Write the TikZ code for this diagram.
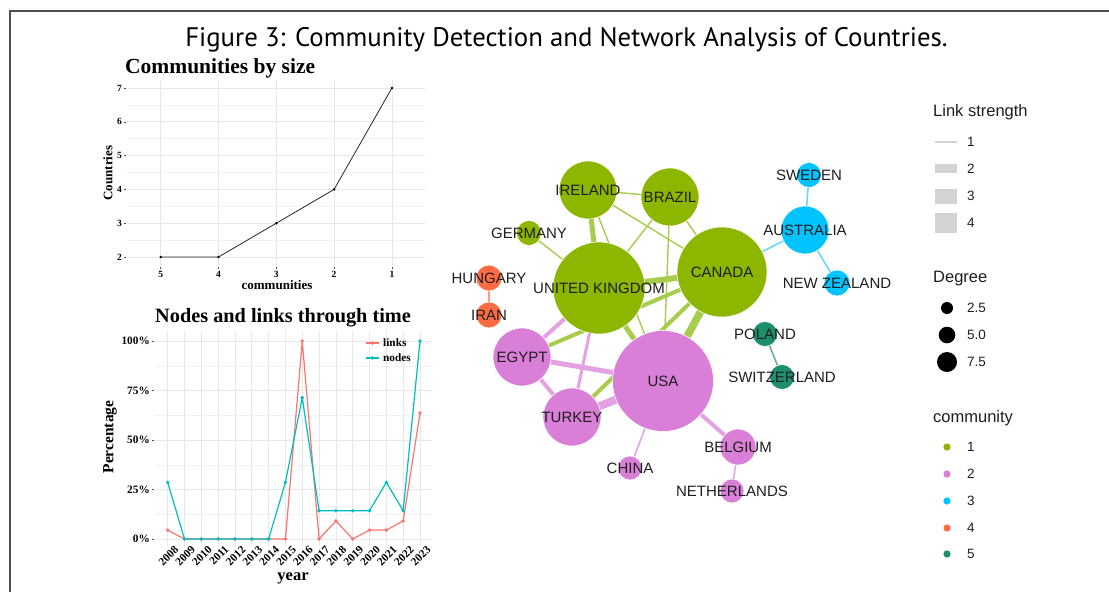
\documentclass[tikz,border=0pt]{standalone}
\usepackage{fontspec}
\setmainfont{Liberation Serif}
\newfontfamily\netfont{Liberation Sans}
\newfontfamily\titlefont{PT Sans}
\usetikzlibrary{backgrounds}
\definecolor{cone}{HTML}{8DB600}
\definecolor{ctwo}{HTML}{DA7FD8}
\definecolor{cthree}{HTML}{00C3FF}
\definecolor{cfour}{HTML}{FF6B42}
\definecolor{cfive}{HTML}{1D8F6C}
\definecolor{eone}{HTML}{A8CC4C}
\definecolor{etwo}{HTML}{E4A2E2}
\definecolor{ethree}{HTML}{66D6FF}
\definecolor{efour}{HTML}{FF9A7C}
\definecolor{efive}{HTML}{5FAF95}
\definecolor{clinks}{HTML}{F8766D}
\definecolor{cnodes}{HTML}{00BFC4}
\definecolor{framegray}{HTML}{505050}
\definecolor{txt}{HTML}{1E1E1E}
\definecolor{keygray}{HTML}{D3D3D3}
\tikzset{
  framestyle/.style={draw=framegray, line width=2pt},
  gridmaj/.style={draw=black!9, line width=0.7pt},
  gridmin/.style={draw=black!5, line width=0.5pt},
  ticklab/.style={font=\bfseries\fontsize{9.5}{10}\selectfont, inner sep=0pt},
  ticklabb/.style={font=\bfseries\fontsize{11.3}{12}\selectfont, inner sep=0pt},
  yearlab/.style={font=\bfseries\fontsize{11.3}{12}\selectfont, inner sep=0pt},
  axtitle/.style={font=\bfseries\fontsize{13}{14}\selectfont, inner sep=0pt},
  axtitleb/.style={font=\bfseries\fontsize{16.5}{17}\selectfont, inner sep=0pt},
  charttitle/.style={font=\bfseries\fontsize{21.5}{24}\selectfont, inner sep=0pt, anchor=base west},
  tickmark/.style={draw=black!70, line width=0.5pt},
  nd/.style={circle, inner sep=0pt, draw=white, line width=0.6pt},
  lab/.style={font=\netfont\fontsize{15}{17}\selectfont, text=txt, inner sep=0pt},
  legtitle/.style={font=\netfont\fontsize{16.5}{18}\selectfont, text=txt, inner sep=0pt, anchor=west},
  legitem/.style={font=\netfont\fontsize{13.5}{15}\selectfont, text=txt, inner sep=0pt, anchor=west},
  eg/.style={draw=eone},
  ep/.style={draw=etwo},
}
\begin{document}
\begin{tikzpicture}[x=1pt,y=-1pt]
\useasboundingbox (0,0) rectangle (1109,592);
\begin{pgfonlayer}{background}
\fill[white] (0,0) rectangle (1109,592);
\end{pgfonlayer}
% frame
\coordinate (fa) at (9.5,592);
\coordinate (fb) at (9.5,10.5);
\coordinate (fc) at (1109,10.5);
\draw[framestyle] (fa) -- (fb) -- (fc);
% title
\node[font=\titlefont\fontsize{26.8}{30}\selectfont, anchor=base, inner sep=0pt] (title) at (566.5,46) {Figure 3: Community Detection and Network Analysis of Countries.};

% ================= Chart 1 =================
\node[charttitle] (t1) at (125,73) {Communities by size};
\foreach \v in {2.5,3.5,4.5,5.5,6.5} \draw[gridmin] (127,{257-33.8*(\v-2)}) -- (425,{257-33.8*(\v-2)});
\foreach \v in {2,...,7} \draw[gridmaj] (127,{257-33.8*(\v-2)}) -- (425,{257-33.8*(\v-2)});
\foreach \i in {0,...,4} \draw[gridmaj] ({160.7+57.8*\i},80) -- ({160.7+57.8*\i},266);
\foreach \v in {2,...,7} {
  \node[ticklab, anchor=east] at (122,{257-33.8*(\v-2)}) {\v};
  \draw[tickmark] (123.5,{257-33.8*(\v-2)}) -- (125.5,{257-33.8*(\v-2)});
}
\foreach \i/\l in {0/5,1/4,2/3,3/2,4/1} {
  \draw[tickmark] ({160.7+57.8*\i},267) -- ({160.7+57.8*\i},269);
  \node[ticklab] at ({160.7+57.8*\i},274.5) {\l};
}
\node[axtitle] (xl1) at (277,285) {communities};
\node[axtitle, rotate=90] (yl1) at (108,173) {Countries};
\draw[black!85, line width=0.8pt] (160.7,257) -- (218.5,257) -- (276.3,223.2) -- (334.1,189.4) -- (391.9,88);
\foreach \x/\y in {160.7/257,218.5/257,276.3/223.2,334.1/189.4,391.9/88} \fill[black] (\x,\y) circle (1.4);

% ================= Chart 2 =================
\node[charttitle, font=\bfseries\fontsize{20.3}{23}\selectfont] (t2) at (155,322) {Nodes and links through time};
\foreach \p in {12.5,37.5,62.5,87.5} \draw[gridmin] (155,{539-1.98*\p}) -- (432,{539-1.98*\p});
\foreach \p in {0,25,50,75,100} \draw[gridmaj] (155,{539-1.98*\p}) -- (432,{539-1.98*\p});
\foreach \j in {0,...,15} \draw[gridmaj] ({167.7+16.82*\j},331) -- ({167.7+16.82*\j},546);
\foreach \p in {0,25,50,75,100} {
  \node[ticklabb, anchor=east] at (150,{539-1.98*\p}) {\p\%};
  \draw[tickmark] (151.5,{539-1.98*\p}) -- (153.5,{539-1.98*\p});
}
\foreach \j in {0,...,15} {
  \pgfmathtruncatemacro{\yr}{2008+\j}
  \node[yearlab, rotate=45, anchor=north east] at ({167.7+16.82*\j+6},544.5) {\yr};
}
\node[axtitleb] (xl2) at (293,578) {year};
\node[axtitleb, font=\bfseries\fontsize{15.5}{17}\selectfont, rotate=90] (yl2) at (110,437) {Percentage};
\def\linkdata{0/4.5,1/0,2/0,3/0,4/0,5/0,6/0,7/0,8/100,9/0,10/9.1,11/0,12/4.5,13/4.5,14/9.1,15/63.6}
\def\nodedata{0/28.6,1/0,2/0,3/0,4/0,5/0,6/0,7/28.6,8/71.4,9/14.3,10/14.3,11/14.3,12/14.3,13/28.6,14/14.3,15/100}
\draw[clinks, line width=1.2pt, line join=round]
  (167.7,{539-1.98*4.5}) \foreach \j/\p in {1/0,2/0,3/0,4/0,5/0,6/0,7/0,8/100,9/0,10/9.1,11/0,12/4.5,13/4.5,14/9.1,15/63.6} { -- ({167.7+16.82*\j},{539-1.98*\p}) };
\foreach \j/\p in \linkdata \fill[clinks] ({167.7+16.82*\j},{539-1.98*\p}) circle (1.9);
\draw[cnodes, line width=1.2pt, line join=round]
  (167.7,{539-1.98*28.6}) \foreach \j/\p in {1/0,2/0,3/0,4/0,5/0,6/0,7/28.6,8/71.4,9/14.3,10/14.3,11/14.3,12/14.3,13/28.6,14/14.3,15/100} { -- ({167.7+16.82*\j},{539-1.98*\p}) };
\foreach \j/\p in \nodedata \fill[cnodes] ({167.7+16.82*\j},{539-1.98*\p}) circle (1.9);
\coordinate (la) at (366,343); \coordinate (lb) at (379,343);
\draw[clinks, line width=1.2pt] (la) -- (lb); \fill[clinks] (372.5,343) circle (1.9);
\node[ticklabb, anchor=west] (ll) at (383,343) {links};
\coordinate (na) at (366,358); \coordinate (nb) at (379,358);
\draw[cnodes, line width=1.2pt] (na) -- (nb); \fill[cnodes] (372.5,358) circle (1.9);
\node[ticklabb, anchor=west] (nl) at (383,358) {nodes};

% ================= Network =================
\node[nd, fill=cone, minimum size=58] (ire) at (588,190) {};
\node[nd, fill=cone, minimum size=58] (bra) at (670,197) {};
\node[nd, fill=cone, minimum size=25] (ger) at (529,233) {};
\node[nd, fill=cone, minimum size=92] (uk) at (599,288) {};
\node[nd, fill=cone, minimum size=90] (can) at (722,272) {};
\node[nd, fill=cfour, minimum size=26] (hun) at (489,278) {};
\node[nd, fill=cfour, minimum size=26] (iran) at (489,315) {};
\node[nd, fill=cthree, minimum size=48] (aus) at (805,230) {};
\node[nd, fill=cthree, minimum size=25] (swe) at (809,175) {};
\node[nd, fill=cthree, minimum size=26] (nz) at (837,283) {};
\node[nd, fill=ctwo, minimum size=58] (egy) at (522,357) {};
\node[nd, fill=ctwo, minimum size=101] (usa) at (663,381) {};
\node[nd, fill=ctwo, minimum size=58] (tur) at (572,417) {};
\node[nd, fill=ctwo, minimum size=24] (chi) at (630,468) {};
\node[nd, fill=ctwo, minimum size=36] (bel) at (738,447) {};
\node[nd, fill=ctwo, minimum size=24] (net) at (732,491) {};
\node[nd, fill=cfive, minimum size=25] (pol) at (765,334) {};
\node[nd, fill=cfive, minimum size=25] (swi) at (782,377) {};
\begin{pgfonlayer}{background}
\draw[eg, line width=1.4pt] (ire.center) -- (bra.center);
\draw[eg, line width=5pt] (ire.center) -- (uk.center);
\draw[eg, line width=1.4pt] (ire.center) -- (usa.center);
\draw[eg, line width=1.4pt] (ire.center) -- (can.center);
\draw[eg, line width=1.4pt] (bra.center) -- (uk.center);
\draw[eg, line width=1.4pt] (bra.center) -- (usa.center);
\draw[eg, line width=1.4pt] (bra.center) -- (can.center);
\draw[eg, line width=1.4pt] (ger.center) -- (uk.center);
\draw[eg, line width=6pt] (uk.center) -- (can.center);
\draw[eg, line width=5pt] (uk.center) -- (usa.center);
\draw[eg, line width=7.5pt] (can.center) -- (usa.center);
\draw[eg, line width=4pt] (egy.center) -- (can.center);
\draw[eg, line width=4pt] (tur.center) -- (can.center);
\draw[ep, line width=4pt] (egy.center) -- (uk.center);
\draw[ep, line width=5pt] (egy.center) -- (usa.center);
\draw[ep, line width=4pt] (egy.center) -- (tur.center);
\draw[ep, line width=3pt] (tur.center) -- (uk.center);
\draw[ep, line width=8pt] (tur.center) -- (usa.center);
\draw[ep, line width=1.5pt] (usa.center) -- (chi.center);
\draw[ep, line width=4pt] (usa.center) -- (bel.center);
\draw[ep, line width=1.5pt] (bel.center) -- (net.center);
\draw[draw=efour, line width=1.5pt] (hun.center) -- (iran.center);
\draw[draw=ethree, line width=1.5pt] (can.center) -- (aus.center);
\draw[draw=ethree, line width=1.5pt] (swe.center) -- (aus.center);
\draw[draw=ethree, line width=1.5pt] (aus.center) -- (nz.center);
\draw[draw=efive, line width=1.5pt] (pol.center) -- (swi.center);
\end{pgfonlayer}
\node[lab] at (ire) {IRELAND};
\node[lab] at (bra) {BRAZIL};
\node[lab] at (ger) {GERMANY};
\node[lab] at (uk) {UNITED KINGDOM};
\node[lab] at (can) {CANADA};
\node[lab] at (hun) {HUNGARY};
\node[lab] at (iran) {IRAN};
\node[lab] at (aus) {AUSTRALIA};
\node[lab] at (swe) {SWEDEN};
\node[lab] at (nz) {NEW ZEALAND};
\node[lab] at (egy) {EGYPT};
\node[lab] at (usa) {USA};
\node[lab] at (tur) {TURKEY};
\node[lab] at (chi) {CHINA};
\node[lab] at (bel) {BELGIUM};
\node[lab] at (net) {NETHERLANDS};
\node[lab] at (pol) {POLAND};
\node[lab] at (swi) {SWITZERLAND};

% ================= Legends =================
\node[legtitle] (lt1) at (933,112) {Link strength};
\fill[keygray] (935,141.3) rectangle (957,142.8);
\fill[keygray] (935,164) rectangle (957,172.5);
\fill[keygray] (935,188.5) rectangle (957,203.5);
\fill[keygray] (935,212.5) rectangle (957,233);
\node[legitem] at (967,142) {1};
\node[legitem] at (967,168.3) {2};
\node[legitem] at (967,196) {3};
\node[legitem] at (967,222.7) {4};
\node[legtitle] (lt2) at (933,279) {Degree};
\fill[black] (947,308) circle (6);
\fill[black] (947,335) circle (8.3);
\fill[black] (947,362) circle (10);
\node[legitem] at (967,308) {2.5};
\node[legitem] at (967,335) {5.0};
\node[legitem] at (967,362) {7.5};
\node[legtitle] (lt3) at (933,418) {community};
\fill[cone] (947,447) circle (3.6);
\fill[ctwo] (947,474) circle (3.6);
\fill[cthree] (947,501) circle (3.6);
\fill[cfour] (947,528) circle (3.6);
\fill[cfive] (947,554) circle (3.6);
\node[legitem] at (967,447) {1};
\node[legitem] at (967,474) {2};
\node[legitem] at (967,501) {3};
\node[legitem] at (967,528) {4};
\node[legitem] at (967,554) {5};
\end{tikzpicture}
\end{document}
